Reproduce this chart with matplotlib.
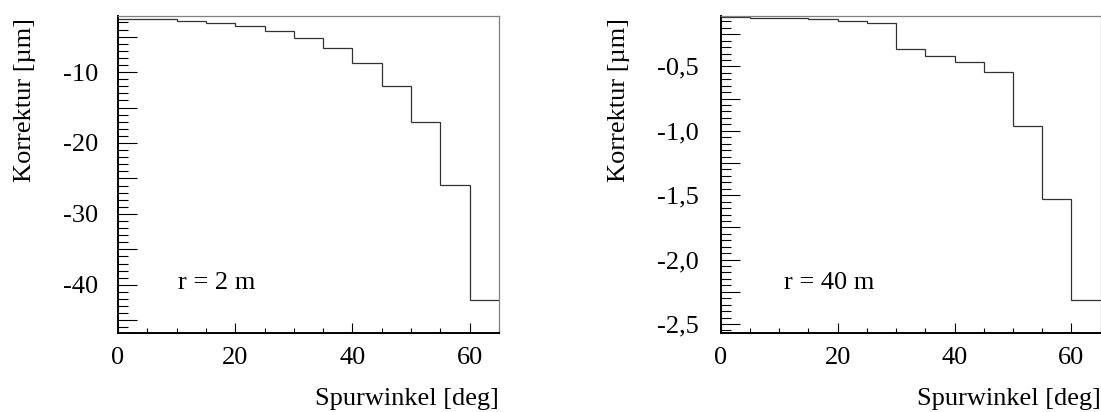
import matplotlib
matplotlib.use("Agg")
import matplotlib.pyplot as plt
from matplotlib.ticker import MultipleLocator, FuncFormatter

# bin edges in degrees (5 deg bins)
edges = [0, 5, 10, 15, 20, 25, 30, 35, 40, 45, 50, 55, 60, 65]

# correction per bin, r = 2 m  [um]
korr_2m = [-2.48, -2.58, -2.82, -3.10, -3.52, -4.23, -5.15, -6.56,
           -8.68, -11.92, -17.04, -25.86, -42.2]
# correction per bin, r = 40 m [um]
korr_40m = [-0.117, -0.121, -0.127, -0.135, -0.145, -0.160, -0.368,
            -0.417, -0.469, -0.547, -0.964, -1.529, -2.314]

plt.rcParams['font.family'] = ['Liberation Serif', 'DejaVu Serif']
plt.rcParams['font.size'] = 19

fig = plt.figure(figsize=(11.01, 4.12), dpi=100)
ax1 = fig.add_axes([0.1072, 0.1917, 0.346, 0.7694])
ax2 = fig.add_axes([0.6546, 0.1917, 0.3451, 0.7694])


def style(ax, ylim, ymaj, ymin, label_every, fmt, ypad):
    ax.set_xlim(0, 65)
    ax.set_ylim(*ylim)
    for s in ['left', 'bottom']:
        ax.spines[s].set_linewidth(1.4)
        ax.spines[s].set_color('black')
    for s in ['top', 'right']:
        ax.spines[s].set_linewidth(0.9)
        ax.spines[s].set_color('#808080')
    ax.xaxis.set_major_locator(MultipleLocator(20))
    ax.xaxis.set_minor_locator(MultipleLocator(5))
    ax.yaxis.set_major_locator(MultipleLocator(ymaj))
    ax.yaxis.set_minor_locator(MultipleLocator(ymin))

    def yfmt(v, pos):
        n = round(v / label_every)
        if abs(v - n * label_every) > 1e-6:
            return ''
        return fmt(v)
    ax.yaxis.set_major_formatter(FuncFormatter(yfmt))
    ax.tick_params(axis='x', which='major', direction='in', length=7.2, width=0.8, pad=10)
    ax.tick_params(axis='x', which='minor', direction='in', length=3.6, width=0.8)
    ax.tick_params(axis='y', which='major', direction='in', length=13.7, width=0.8, pad=ypad)
    ax.tick_params(axis='y', which='minor', direction='in', length=7.2, width=0.8)
    ax.set_xlabel('Spurwinkel [deg]', loc='right')
    ax.xaxis.set_label_coords(1.0, -0.172)
    ax.set_ylabel('Korrektur [µm]', loc='top')


# left panel, r = 2 m
ax1.stairs(korr_2m, edges, baseline=None, color='#333333', linewidth=0.9)
style(ax1, (-46.8, -2.1), 5, 1, 10, lambda v: f'{v:.0f}', 14)
ax1.yaxis.set_label_coords(-0.215, 0.994)
ax1.text(0.157, 0.158, 'r = 2 m', transform=ax1.transAxes, va='center', ha='left')

# right panel, r = 40 m
ax2.stairs(korr_40m, edges, baseline=None, color='#333333', linewidth=0.9)
style(ax2, (-2.57, -0.109), 0.25, 0.05, 0.5,
      lambda v: f'{v:.1f}'.replace('.', ','), 16)
ax2.yaxis.set_label_coords(-0.239, 0.994)
ax2.text(0.166, 0.158, 'r = 40 m', transform=ax2.transAxes, va='center', ha='left')

fig.savefig('out.png', dpi=100)
